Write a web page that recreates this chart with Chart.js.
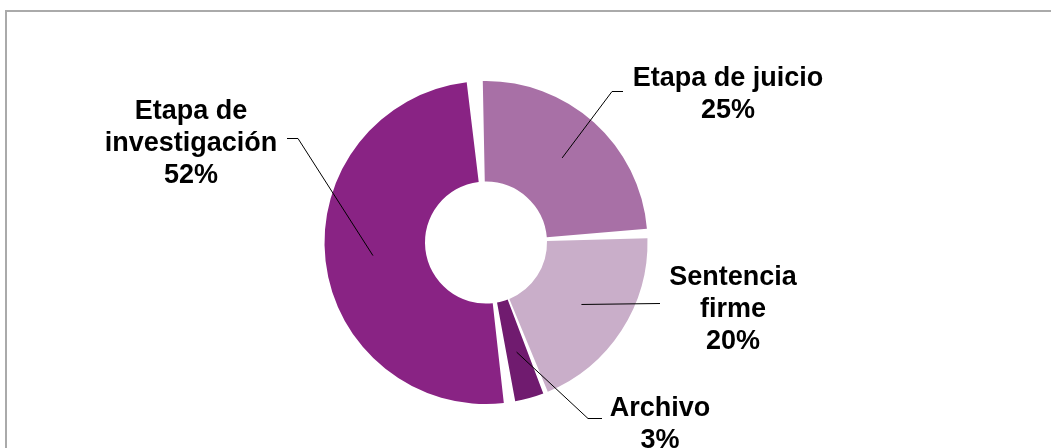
<!DOCTYPE html>
<html>
<head>
<meta charset="utf-8">
<script src="https://cdn.jsdelivr.net/npm/chart.js@4"></script>
<style>
  html, body { margin: 0; padding: 0; background: #fff; overflow: hidden; }
  #frame { position: absolute; left: 5px; top: 10px; width: 1100px; height: 500px; border: 2px solid #aaaaaa; }
  #wrap { position: absolute; left: 0; top: 0; width: 1051px; height: 448px; }
</style>
</head>
<body>
<div id="frame"></div>
<div id="wrap"><canvas id="donut"></canvas></div>
<script>
// categorias y valores (porcentaje de causas)
var etapas = ["Etapa de juicio", "Sentencia firme", "Archivo", "Etapa de investigación"];
var valores = [25, 20, 3, 52];
var colores = ["#a870a6", "#c9aec9", "#701b6f", "#892384"];

// posicion de cada etiqueta respecto al centro del anillo
var labelLayout = [
	{ dx: 242, dy: -157, wrap: 210, elbow: [126, -151], end: [137, -151] },
	{ dx: 247, dy: 42, wrap: 180, elbow: [174, 61], end: [174, 61] },
	{ dx: 174, dy: 173, wrap: 180, elbow: [102, 176], end: [116, 176] },
	{ dx: -295, dy: -124, wrap: 180, elbow: [-188, -104], end: [-199, -104] },
];
var labelFont = "bold 27px 'Liberation Sans', Arial, sans-serif";
var lineHeight = 32;

function wrapText(ctx, text, max) {
	var words = text.split(" "), lines = [], cur = "";
	words.forEach(function (w) {
		var t = cur ? cur + " " + w : w;
		if (cur && ctx.measureText(t).width > max) {
			lines.push(cur);
			cur = w;
		} else cur = t;
	});
	if (cur) lines.push(cur);
	return lines;
}

var leaderLabels = {
	id: "leaderLabels",
	afterDatasetsDraw: function (chart) {
		var ctx = chart.ctx;
		var meta = chart.getDatasetMeta(0);
		var data = chart.data.datasets[0].data;
		var total = data.reduce(function (a, b) { return a + b; }, 0);
		ctx.save();
		ctx.font = labelFont;
		ctx.fillStyle = "#000";
		ctx.strokeStyle = "#000";
		ctx.lineWidth = 1;
		ctx.textAlign = "center";
		ctx.textBaseline = "alphabetic";
		meta.data.forEach(function (arc, i) {
			var p = arc.getProps(["x", "y", "startAngle", "endAngle", "innerRadius", "outerRadius"], true);
			var lay = labelLayout[i];
			var mid = (p.startAngle + p.endAngle) / 2;
			var r = p.innerRadius + 0.57 * (p.outerRadius - p.innerRadius);
			var ax = p.x + Math.cos(mid) * r, ay = p.y + Math.sin(mid) * r;
			ctx.beginPath();
			ctx.moveTo(ax, ay);
			ctx.lineTo(p.x + lay.elbow[0], p.y + lay.elbow[1]);
			ctx.lineTo(p.x + lay.end[0], p.y + lay.end[1]);
			ctx.stroke();
			var lines = wrapText(ctx, chart.data.labels[i], lay.wrap);
			lines.push(Math.round((data[i] / total) * 100) + "%");
			lines.forEach(function (ln, k) {
				ctx.fillText(ln, p.x + lay.dx, p.y + lay.dy + k * lineHeight);
			});
		});
		ctx.restore();
	},
};

var donutChart = new Chart(document.getElementById("donut"), {
	type: "doughnut",
	data: {
		labels: etapas,
		datasets: [
			{
				data: valores,
				backgroundColor: colores,
				borderWidth: 0,
				spacing: 9,
			},
		],
	},
	options: {
		responsive: true,
		maintainAspectRatio: false,
		animation: false,
		radius: 157,
		cutout: "36%",
		rotation: -3,
		layout: { padding: { left: 0, right: 79, top: 37, bottom: 0 } },
		plugins: { legend: { display: false }, tooltip: { enabled: false } },
	},
	plugins: [leaderLabels],
});
</script>
</body>
</html>
